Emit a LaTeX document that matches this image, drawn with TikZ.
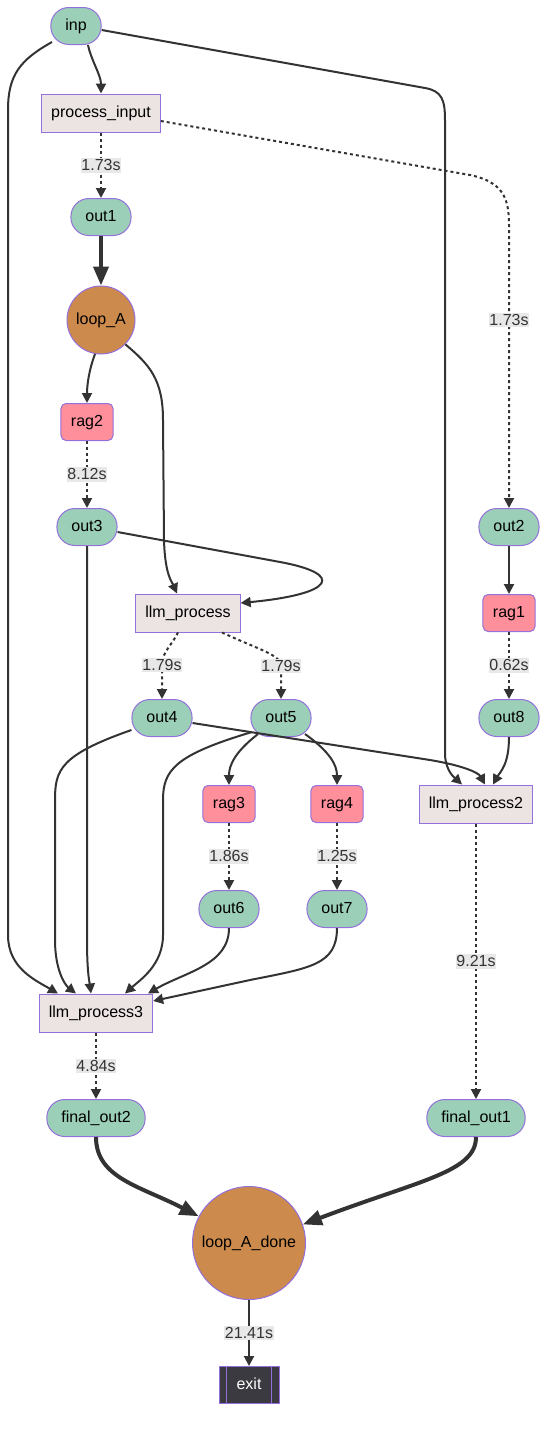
\documentclass[tikz,border=0pt]{standalone}
\usepackage{fontspec}
\setmainfont{Liberation Sans}
\usetikzlibrary{arrows.meta}
\definecolor{stategreen}{HTML}{9BCFB8}
\definecolor{procgrey}{HTML}{ECE4E3}
\definecolor{ragpink}{HTML}{FF8F9B}
\definecolor{loopbrown}{HTML}{CC8A4D}
\definecolor{exitdark}{HTML}{3A3A40}
\definecolor{borderpurple}{HTML}{9370DB}
\definecolor{linegrey}{HTML}{333333}
\definecolor{labelgrey}{HTML}{E8E8E8}

\begin{document}
\begin{tikzpicture}[x=1pt, y=-1pt, font=\fontsize{16}{19}\selectfont,
          boxbase/.style={draw=borderpurple, line width=1pt, text height=12pt, text depth=3pt},
          outnode/.style={boxbase, fill=stategreen, rounded corners=18pt, minimum height=37pt, inner xsep=14.5pt},
          procnode/.style={boxbase, fill=procgrey, minimum height=38pt, inner xsep=9.5pt},
          ragnode/.style={boxbase, fill=ragpink, rounded corners=5pt, minimum height=37pt, inner xsep=10pt},
          loopnode/.style={boxbase, circle, fill=loopbrown, inner sep=0pt},
          flow/.style={draw=linegrey, line width=2pt, -{Triangle[length=10pt,width=10pt]}},
          timed/.style={flow, dash pattern=on 3pt off 3pt},
          heavy/.style={draw=linegrey, line width=4pt, -{Triangle[length=19pt,width=15pt]}},
          lbl/.style={fill=labelgrey, text=linegrey, inner xsep=0.5pt, inner ysep=1pt, text height=11.5pt, text depth=1pt}]
          \useasboundingbox (0,0) rectangle (555,1433);

          \node[outnode] (inp) at (76,26) {inp};
          \node[procnode] (process_input) at (101,113) {process\_input};
          \node[outnode] (out1) at (101,217) {out1};
          \node[loopnode, minimum size=68pt] (loop_A) at (101,320) {loop\_A};
          \node[ragnode] (rag2) at (87,422) {rag2};
          \node[outnode] (out3) at (87,527) {out3};
          \node[procnode] (llm_process) at (188,613) {llm\_process};
          \node[outnode] (out4) at (162,718) {out4};
          \node[outnode] (out5) at (281,718) {out5};
          \node[ragnode] (rag3) at (229,804) {rag3};
          \node[ragnode] (rag4) at (337,804) {rag4};
          \node[outnode] (out6) at (229,909) {out6};
          \node[outnode] (out7) at (337,909) {out7};
          \node[procnode] (llm_process3) at (96,1013) {llm\_process3};
          \node[outnode] (final_out2) at (96,1118) {final\_out2};
          \node[outnode] (out2) at (509,527) {out2};
          \node[ragnode] (rag1) at (509,613) {rag1};
          \node[outnode] (out8) at (509,718) {out8};
          \node[procnode] (llm_process2) at (476,804) {llm\_process2};
          \node[outnode] (final_out1) at (476,1118) {final\_out1};
          \node[loopnode, minimum size=113pt] (loop_A_done) at (249,1243) {loop\_A\_done};
          \node[boxbase, fill=exitdark, text=white, minimum width=60pt, minimum height=37pt] (exit) at (249,1385) {exit};
          \draw[borderpurple, line width=1pt] ([xshift=8pt]exit.north west) -- ([xshift=8pt]exit.south west);
          \draw[borderpurple, line width=1pt] ([xshift=-8pt]exit.north east) -- ([xshift=-8pt]exit.south east);

          \draw [flow] ([xshift=12pt]inp.south) .. controls (91,60) and (101,75) .. (process_input.north);
          \draw [flow] ([xshift=-24pt,yshift=3pt]inp.south) .. controls (20,60) and (8,75) .. (8,110)
                -- (8,935) .. controls (8,968) and (35,980) .. ([xshift=-38pt]llm_process3.north);
          \draw [flow] ([yshift=-4pt]inp.east) -- (425,88) .. controls (442,91) and (445,100) .. (445,120)
                -- (445,755) .. controls (446,772) and (455,778) .. ([xshift=-14pt]llm_process2.north);
          \draw [timed] (process_input) -- node[lbl] {1.73s} (out1);
          \draw [timed] ([yshift=-8pt]process_input.east) -- (470,175) .. controls (503,182) and (509,198) .. (509,225)
                -- (509,320) node[lbl] {1.73s} -- (out2);
          \draw [heavy] (out1) -- (loop_A);
          \draw [flow] (loop_A.260) .. controls (89,370) and (87,385) .. (rag2.north);
          \draw [flow] (loop_A.-45) .. controls (150,365) and (163,380) .. (163,420)
                -- (164,540) .. controls (165,575) and (172,582) .. ([xshift=-11pt]llm_process.north);
          \draw [timed] (rag2) -- node[lbl] {8.12s} (out3);
          \draw [flow] ([yshift=-5pt]out3.east) -- (280,562) .. controls (345,574) and (335,594) .. ([yshift=10pt]llm_process.east);
          \draw [flow] (out3.south) -- (87,940) .. controls (87,975) and (90,985) .. ([xshift=-5pt]llm_process3.north);
          \draw [timed] ([xshift=-10pt]llm_process.south) .. controls (172,645) and (162,652) .. (162,665) node[lbl] {1.79s} -- (out4.north);
          \draw [timed] ([xshift=34pt]llm_process.south) .. controls (260,650) and (281,655) .. (281,666) node[lbl] {1.79s} -- (out5.north);
          \draw [flow] ([yshift=-12pt]out4.west) .. controls (60,755) and (55,770) .. (55,800)
                -- (55,940) .. controls (55,970) and (65,985) .. ([xshift=-20pt]llm_process3.north);
          \draw [flow] ([yshift=-5pt]out4.east) -- (430,760) .. controls (460,765) and (478,772) .. ([xshift=9pt]llm_process2.north);
          \draw [flow] ([xshift=-29pt,yshift=5pt]out5.south) .. controls (175,755) and (163,770) .. (163,800)
                -- (163,935) .. controls (163,965) and (140,980) .. ([xshift=29pt]llm_process3.north);
          \draw [flow] ([xshift=-23pt,yshift=3pt]out5.south) .. controls (235,752) and (229,765) .. (rag3.north);
          \draw [flow] ([xshift=24pt,yshift=3pt]out5.south) .. controls (330,752) and (337,765) .. (rag4.north);
          \draw [timed] (rag3) -- node[lbl] {1.86s} (out6);
          \draw [timed] (rag4) -- node[lbl] {1.25s} (out7);
          \draw [flow] (out6.south) .. controls (229,965) and (185,972) .. ([xshift=52pt]llm_process3.north);
          \draw [flow] (out7.south) .. controls (337,965) and (310,968) .. (250,980) -- ([yshift=12pt]llm_process3.east);
          \draw [flow] (out2) -- (rag1);
          \draw [timed] (rag1) -- node[lbl] {0.62s} (out8);
          \draw [flow] (out8.south) .. controls (509,765) and (500,772) .. ([xshift=17pt]llm_process2.north);
          \draw [timed] (llm_process2) -- node[lbl] {9.21s} (final_out1);
          \draw [timed] (llm_process3) -- node[lbl] {4.84s} (final_out2);
          \draw [heavy] (final_out2.south) .. controls (96,1178) and (140,1186) .. (loop_A_done.152);
          \draw [heavy] (final_out1.south) .. controls (476,1172) and (420,1180) .. (loop_A_done.19);
          \draw [flow] (loop_A_done) -- node[lbl] {21.41s} (exit);
        \end{tikzpicture}
\end{document}
